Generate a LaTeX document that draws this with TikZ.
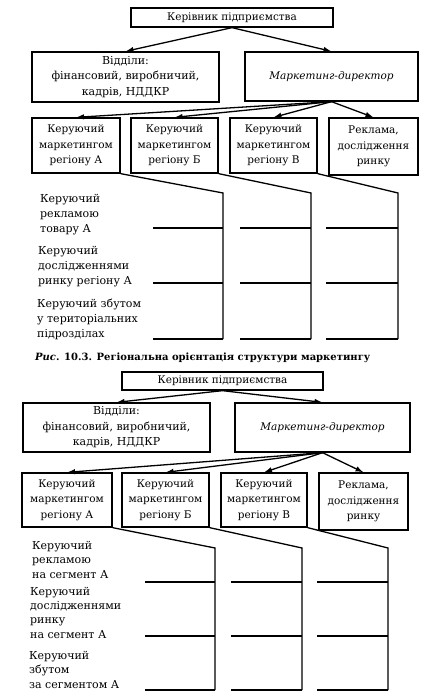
\documentclass[tikz,border=0pt]{standalone}
\usepackage{fontspec}
\setmainfont{DejaVu Serif}
\usetikzlibrary{arrows.meta}

\begin{document}
\begin{tikzpicture}[x=1pt, y=-1pt,
	blok/.style={draw, line width=1.3pt, align=center, inner sep=0pt, font=\fontsize{10.5}{15.5}\selectfont},
	strilka/.style={line width=1.3pt, -{Latex[length=8pt, width=5.5pt]}},
	liniya/.style={line width=1.3pt},
	pidpys/.style={anchor=base west, align=left, inner sep=0pt, font=\fontsize{11}{15}\selectfont}]

\useasboundingbox (0,0) rectangle (427,693);

% Перша схема
\node[blok, minimum width=202, minimum height=19] (kerivnyk) at (232,17.5) {Керівник підприємства};
\node[blok, minimum width=187, minimum height=50, font=\fontsize{11}{15.5}\selectfont] (viddily) at (125.5,77) {Відділи:\\фінансовий, виробничий,\\кадрів, НДДКР};
\node[blok, minimum width=173, minimum height=49] (dyrektor) at (331.5,76.5) {\itshape Маркетинг-директор};

\node[blok, minimum width=88, minimum height=55] (regA) at (76,145.5) {Керуючий\\маркетингом\\регіону А};
\node[blok, minimum width=87, minimum height=55] (regB) at (174.5,145.5) {Керуючий\\маркетингом\\регіону Б};
\node[blok, minimum width=87, minimum height=55] (regV) at (273.5,145.5) {Керуючий\\маркетингом\\регіону В};
\node[blok, minimum width=89, minimum height=57] (reklama) at (373.5,146.5) {Реклама,\\дослідження\\ринку};

	\foreach \n in {viddily, dyrektor}
		\draw[strilka] (kerivnyk.south) -- (\n.north);

	\foreach \n in {regA, regB, regV, reklama}
		\draw[strilka] (dyrektor.south) -- (\n.north);

	\foreach \b/\x/\l in {regA/223/153, regB/311/240, regV/398/326} {
		\coordinate (\b-v) at (\x,193);
		\coordinate (\b-n) at (\x,339);
		\draw[liniya] (\b.south east) -- (\b-v) -- (\b-n);
		\foreach \y [count=\i] in {228, 283, 339} {
			\coordinate (\b-l\i) at (\l,\y);
			\coordinate (\b-r\i) at (\x,\y);
			\draw[liniya] (\b-l\i) -- (\b-r\i);
		}
	}

\node[pidpys] (rekl) at (40,232) {Керуючий\\рекламою\\товару А};
\node[pidpys] (dosl) at (38,284) {Керуючий\\дослідженнями\\ринку регіону А};
\node[pidpys] (zbut) at (37,337) {Керуючий збутом\\у територіальних\\підрозділах};

\node[anchor=base west, inner sep=0pt, font=\fontsize{10}{12}\bfseries] (rys) at (35,360) {\textit{Рис}. 10.3. Регіональна орієнтація структури маркетингу};

% Друга схема
\node[blok, minimum width=201, minimum height=18] (kerivnyk2) at (222.5,381) {Керівник підприємства};
\node[blok, minimum width=187, minimum height=49, font=\fontsize{11}{15.5}\selectfont] (viddily2) at (116.5,427.5) {Відділи:\\фінансовий, виробничий,\\кадрів, НДДКР};
\node[blok, minimum width=175, minimum height=49] (dyrektor2) at (322.5,427.5) {\itshape Маркетинг-директор};

\node[blok, minimum width=90, minimum height=54] (regA2) at (67,500) {Керуючий\\маркетингом\\регіону А};
\node[blok, minimum width=87, minimum height=54] (regB2) at (165.5,500) {Керуючий\\маркетингом\\регіону Б};
\node[blok, minimum width=86, minimum height=54] (regV2) at (264,500) {Керуючий\\маркетингом\\регіону В};
\node[blok, minimum width=89, minimum height=57] (reklama2) at (363.5,501.5) {Реклама,\\дослідження\\ринку};

	\foreach \n in {viddily2, dyrektor2}
		\draw[strilka] (kerivnyk2.south) -- (\n.north);

	\foreach \n in {regA2, regB2, regV2, reklama2}
		\draw[strilka] (dyrektor2.south) -- (\n.north);

	\foreach \b/\x/\l in {regA2/215/145, regB2/302/231, regV2/388/317} {
		\coordinate (\b-v) at (\x,548);
		\coordinate (\b-n) at (\x,690);
		\draw[liniya] (\b.south east) -- (\b-v) -- (\b-n);
		\foreach \y [count=\i] in {582, 636, 690} {
			\coordinate (\b-l\i) at (\l,\y);
			\coordinate (\b-r\i) at (\x,\y);
			\draw[liniya] (\b-l\i) -- (\b-r\i);
		}
	}

\node[pidpys, font=\fontsize{11}{14.3}\selectfont] (rekl2) at (32,578) {Керуючий\\рекламою\\на сегмент А};
\node[pidpys, font=\fontsize{11}{14.3}\selectfont] (dosl2) at (30,638) {Керуючий\\дослідженнями\\ринку\\на сегмент А};
\node[pidpys, font=\fontsize{11}{14.3}\selectfont] (zbut2) at (29,688) {Керуючий\\збутом\\за сегментом А};
\end{tikzpicture}
\end{document}
